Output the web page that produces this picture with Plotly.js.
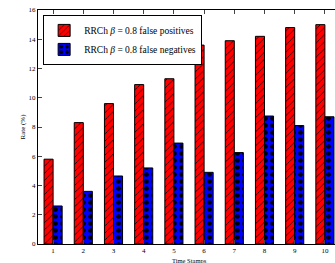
<!DOCTYPE html>
<html><head><meta charset="utf-8">
<script src="https://cdn.plot.ly/plotly-3.0.1.min.js"></script>
<style>html,body{margin:0;padding:0;overflow:hidden;background:#fff}</style>
</head><body>
<div id="chart" style="width:342px;height:263px"></div>
<script>
const timeStamps = [1,2,3,4,5,6,7,8,9,10];
const falsePositives = [5.8,8.3,9.6,10.9,11.3,13.6,13.9,14.2,14.8,15.0];
const falseNegatives = [2.6,3.6,4.65,5.2,6.9,4.9,6.25,8.75,8.1,8.7];
const tickLabels = ['1','2','3','4','5','6','7','8','9','10'];

const serif = 'Liberation Serif, DejaVu Serif, serif';
const traces = [
  {type:'bar', x:timeStamps, y:falsePositives, name:'RRCh <i>β</i> = 0.8 false positives',
   marker:{color:'#ff0000', line:{color:'#000', width:1},
     pattern:{shape:'/', fgcolor:'#000', bgcolor:'#ff0000', size:5, solidity:0.15}}},
  {type:'bar', x:timeStamps, y:falseNegatives, name:'RRCh <i>β</i> = 0.8 false negatives',
   marker:{color:'#0000ff', line:{color:'#000', width:1},
     pattern:{shape:'.', fgcolor:'#000', bgcolor:'#0000ff', size:7, solidity:0.35}}}
];
const layout = {
  width:342, height:263,
  margin:{l:38, r:2, t:10, b:19},
  paper_bgcolor:'#fff', plot_bgcolor:'#fff',
  barmode:'group', bargap:0.4, bargroupgap:0,
  font:{family:serif, color:'#000', size:8},
  showlegend:true,
  legend:{x:0.017, y:0.979, xanchor:'left', yanchor:'top', bgcolor:'#fff',
    bordercolor:'#000', borderwidth:1, font:{family:serif, size:9.5}, tracegroupgap:0, itemwidth:30},
  xaxis:{range:[0.5,10.5], tickvals:timeStamps, ticktext:tickLabels, ticks:'inside', ticklen:4,
    showline:true, linecolor:'#000', linewidth:1, mirror:'ticks', showgrid:false, zeroline:false,
    tickfont:{size:7}, automargin:false},
  yaxis:{range:[0,16], dtick:2, ticks:'inside', ticklen:4, showline:true, linecolor:'#000', linewidth:1,
    mirror:false, showgrid:false, zeroline:false, tickfont:{size:7},
    title:{text:'Rate (%)', font:{size:7}, standoff:2}},
  annotations:[{text:'Time Stamps', xref:'paper', yref:'paper', x:0.5, y:0, xanchor:'center',
    yanchor:'top', yshift:-11, showarrow:false, font:{family:serif, size:6.5}}]
};
Plotly.newPlot('chart', traces, layout, {displayModeBar:false, staticPlot:true});
</script>
</body></html>
